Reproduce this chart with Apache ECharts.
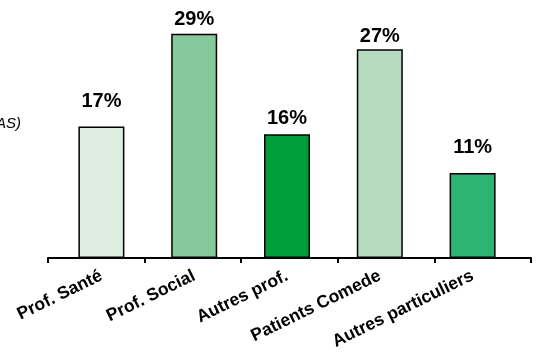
<!DOCTYPE html>
<html>
<head>
<meta charset="utf-8">
<script src="https://cdn.jsdelivr.net/npm/echarts@6/dist/echarts.min.js"></script>
<style>
  html, body { margin: 0; padding: 0; background: #fff; }
  #chart { width: 539px; height: 361px; }
</style>
</head>
<body>
<div id="chart"></div>
<script>
// données
const categories = ['Prof. Santé', 'Prof. Social', 'Autres prof.', 'Patients Comede', 'Autres particuliers'];
const values = [17, 29, 16, 27, 11];

// styles
const barColors = ['#ddeee0', '#86c99b', '#009e3b', '#b5dcbf', '#2db473'];
const labelGap = [15, 4, 6, 3, 15];

const chart = echarts.init(document.getElementById('chart'));

const font = '"Liberation Sans", Arial, Helvetica, sans-serif';

const option = {
    animation: false,
    backgroundColor: '#fff',
    grid: [
        // grille des barres
        { left: 55, right: 20, top: 26, bottom: 103 },
        // grille de l'axe (traits + graduations)
        { left: 48, right: 8, top: 26, bottom: 103 }
    ],
    xAxis: [
        {
            type: 'category',
            gridIndex: 0,
            data: categories,
            axisLine: { show: false },
            axisTick: { show: false },
            axisLabel: {
                interval: 0,
                rotate: 26,
                margin: 17,
                color: '#000',
                fontFamily: font,
                fontWeight: 'bold',
                fontSize: 17.5
            }
        },
        {
            type: 'category',
            gridIndex: 1,
            data: categories.map(() => ''),
            axisLine: { show: true, lineStyle: { color: '#000', width: 2 } },
            axisTick: { show: true, length: 5, lineStyle: { color: '#000', width: 2 } },
            axisLabel: { show: false }
        }
    ],
    yAxis: [
        { type: 'value', gridIndex: 0, min: 0, max: 30, show: false },
        { type: 'value', gridIndex: 1, min: 0, max: 30, show: false }
    ],
    graphic: [
        {
            type: 'text',
            right: 518,
            top: 116,
            style: {
                text: 'AS)',
                fill: '#000',
                font: 'italic 15px ' + font
            }
        }
    ],
    series: [{
        type: 'bar',
        xAxisIndex: 0,
        yAxisIndex: 0,
        barWidth: 46,
        data: values.map((v, i) => ({
            value: v,
            itemStyle: { color: barColors[i] },
            label: { distance: labelGap[i] }
        })),
        itemStyle: { borderColor: '#000', borderWidth: 1.5 },
        label: {
            show: true,
            position: 'top',
            formatter: '{c}%',
            color: '#000',
            fontFamily: font,
            fontWeight: 'bold',
            fontSize: 20
        }
    }]
};

chart.setOption(option);
</script>
</body>
</html>
